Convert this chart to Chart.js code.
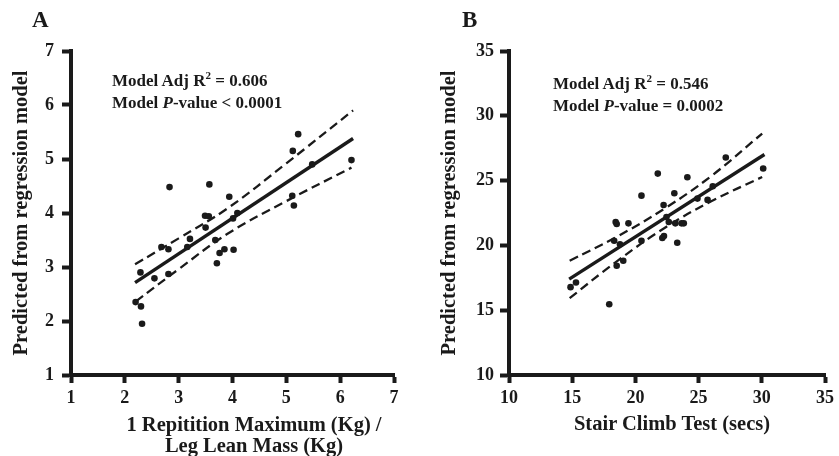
<!DOCTYPE html>
<html>
<head>
<meta charset="utf-8">
<script src="https://cdn.jsdelivr.net/npm/chart.js@4.4.1/dist/chart.umd.min.js"></script>
<style>
  body { margin: 0; background: #fff; }
  #wrap { position: relative; width: 839px; height: 456px; overflow: hidden; font-family: "Liberation Serif", "DejaVu Serif", serif; color: #1a1a1a; }
  canvas { position: absolute; top: 0; }
  #cA { left: 0; }
  #cB { left: 420px; }
  .lab { position: absolute; font-weight: bold; font-size: 23px; line-height: 23px; }
  .note { position: absolute; font-weight: bold; font-size: 17px; line-height: 21.5px; white-space: nowrap; }
  .note sup { font-size: 11px; line-height: 0; }
  .xt { position: absolute; font-weight: bold; font-size: 20.5px; line-height: 21px; white-space: nowrap; text-align: center; width: 320px; }
</style>
</head>
<body>
<div id="wrap">
  <canvas id="cA" width="420" height="456"></canvas>
  <canvas id="cB" width="419" height="456"></canvas>
  <div class="lab" style="left:32px; top:8px;">A</div>
  <div class="lab" style="left:462px; top:8px;">B</div>
  <div class="note" style="left:112px; top:70px;">Model Adj R<sup>2</sup> = 0.606<br>Model <i>P</i>-value &lt; 0.0001</div>
  <div class="note" style="left:553px; top:73px;">Model Adj R<sup>2</sup> = 0.546<br>Model <i>P</i>-value = 0.0002</div>
  <div class="xt" style="left:94px; top:414px;">1 Repitition Maximum (Kg) /<br>Leg Lean Mass (Kg)</div>
  <div class="xt" style="left:512px; top:413px;">Stair Climb Test (secs)</div>
</div>
<script>
// Panel A: 1RM / leg lean mass vs predicted
const aX = [2.29, 2.20, 2.30, 2.32, 2.55, 2.81, 2.68, 2.81, 2.83, 3.16, 3.21, 3.49, 3.56, 3.50, 3.57,
            3.68, 3.71, 3.76, 3.85, 3.94, 4.02, 4.01, 4.09, 5.11, 5.14, 5.12, 5.22, 5.48, 6.21];
const aY = [2.90, 2.35, 2.27, 1.95, 2.79, 2.87, 3.37, 3.33, 4.48, 3.37, 3.52, 3.95, 3.94, 3.73, 4.53,
            3.50, 3.07, 3.26, 3.33, 4.30, 3.32, 3.90, 4.00, 4.32, 4.14, 5.15, 5.46, 4.90, 4.98];
const aFitX = [2.19, 6.24];
const aFitY = [2.71, 5.38];
const aUpX = [2.19, 3.0, 3.9, 5.0, 6.24];
const aUpY = [3.05, 3.53, 4.08, 4.92, 5.90];
const aLoX = [2.20, 3.0, 3.9, 5.0, 6.21];
const aLoY = [2.36, 2.96, 3.61, 4.22, 4.84];

// Panel B: stair climb test vs predicted
const bX = [14.87, 15.30, 17.93, 18.32, 18.44, 18.52, 18.52, 18.78, 19.04, 19.45, 20.48, 20.48, 21.77, 22.13, 22.26,
            22.23, 22.46, 22.64, 23.08, 23.16, 23.31, 23.65, 23.83, 24.11, 24.91, 25.71, 26.12, 27.15, 30.11];
const bY = [16.78, 17.14, 15.46, 20.36, 21.80, 21.65, 18.43, 20.08, 18.81, 21.70, 23.84, 20.36, 25.54, 20.57, 20.72,
            23.12, 22.19, 21.80, 24.02, 21.70, 20.21, 21.70, 21.70, 25.26, 23.61, 23.51, 24.56, 26.78, 25.93];
const bFitX = [14.76, 30.21];
const bFitY = [17.40, 27.01];
const bUpX = [14.8, 18.5, 22.4, 26.0, 30.03];
const bUpY = [18.82, 20.65, 22.90, 25.35, 28.63];
const bLoX = [14.8, 18.5, 22.4, 26.0, 30.03];
const bLoY = [15.93, 18.75, 21.40, 23.40, 25.28];

const ink = "#1a1a1a";
const serif = "'Liberation Serif', 'DejaVu Serif', serif";

const pts = (xs, ys) => xs.map((x, i) => ({ x: x, y: ys[i] }));

function lineSet(xs, ys, dashed) {
  return {
    type: "line",
    data: pts(xs, ys),
    showLine: true,
    borderColor: ink,
    borderWidth: dashed ? 2.3 : 3.4,
    borderDash: dashed ? [9, 5] : [],
    pointRadius: 0,
    tension: dashed ? 0.4 : 0,
    fill: false,
  };
}

function makeChart(id, p) {
  new Chart(document.getElementById(id), {
    type: "scatter",
    data: {
      datasets: [
        { data: pts(p.x, p.y), pointRadius: 3.3, pointBackgroundColor: ink, pointBorderWidth: 0 },
        lineSet(p.fitX, p.fitY, false),
        lineSet(p.upX, p.upY, true),
        lineSet(p.loX, p.loY, true),
      ],
    },
    options: {
      responsive: false,
      animation: false,
      events: [],
      layout: { autoPadding: false, padding: { left: 0, top: p.top, right: p.right, bottom: 0 } },
      plugins: { legend: { display: false }, tooltip: { enabled: false } },
      scales: {
        x: {
          type: "linear", min: p.xMin, max: p.xMax,
          ticks: { stepSize: p.xStep, color: ink, padding: 5, font: { family: serif, size: 18, weight: "bold" } },
          grid: { drawOnChartArea: false, drawTicks: true, tickLength: 8, tickWidth: 4, tickColor: ink },
          border: { display: true, width: 4, color: ink },
          afterFit: (s) => { s.height = 81; },
        },
        y: {
          type: "linear", min: p.yMin, max: p.yMax,
          ticks: { stepSize: p.yStep, color: ink, padding: p.yTickPad, font: { family: serif, size: 18, weight: "bold" } },
          grid: { drawOnChartArea: false, drawTicks: true, tickLength: 9, tickWidth: 4, tickColor: ink },
          border: { display: true, width: 4, color: ink },
          title: { display: true, text: "Predicted from regression model", color: ink, padding: { top: p.yTitlePad, bottom: 0 }, font: { family: serif, size: 20.5, weight: "bold" } },
          afterFit: (s) => { s.width = p.yWidth; },
        },
      },
    },
  });
}

makeChart("cA", {
  x: aX, y: aY, fitX: aFitX, fitY: aFitY, upX: aUpX, upY: aUpY, loX: aLoX, loY: aLoY,
  xMin: 1, xMax: 7, xStep: 1, yMin: 1, yMax: 7, yStep: 1,
  top: 51, right: 26, yWidth: 71, yTickPad: 8, yTitlePad: 9,
});

makeChart("cB", {
  x: bX, y: bY, fitX: bFitX, fitY: bFitY, upX: bUpX, upY: bUpY, loX: bLoX, loY: bLoY,
  xMin: 10, xMax: 35, xStep: 5, yMin: 10, yMax: 35, yStep: 5,
  top: 51, right: 6, yWidth: 89, yTickPad: 6, yTitlePad: 17,
});
</script>
</body>
</html>
